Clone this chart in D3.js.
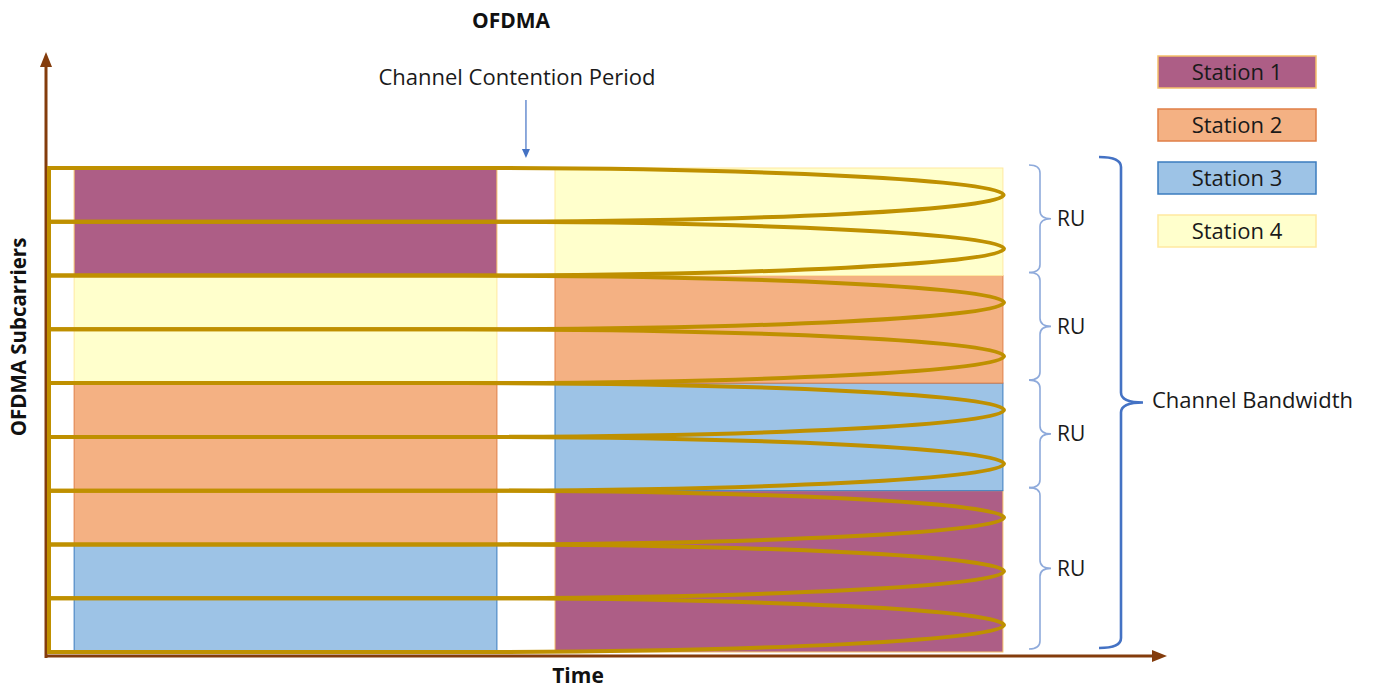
<!DOCTYPE html>
<html>
<head>
<meta charset="utf-8">
<script src="https://cdn.jsdelivr.net/npm/d3@7"></script>
<style>
  body { margin: 0; background: #fff; }
  svg { display: block; font-family: "Open Sans", sans-serif; }
</style>
</head>
<body>
<svg id="chart" width="1374" height="688"></svg>
<script>
// Stations (legend order)
const stations = ["Station 1", "Station 2", "Station 3", "Station 4"];

// Subcarrier rows, counted from the bottom
const subcarriers = [0, 1, 2, 3, 4, 5, 6, 7, 8];

// Time spans of the two transmissions (contention period sits in between)
const bursts = [[0.45, 8.02], [9.06, 17.08]];

// Who gets which rows: [station, from row, to row]
const burst1 = [["Station 3", 0, 2], ["Station 2", 2, 5], ["Station 4", 5, 7], ["Station 1", 7, 9]];
const burst2 = [["Station 1", 0, 3], ["Station 3", 3, 5], ["Station 2", 5, 7], ["Station 4", 7, 9]];

// Resource units on the right side
const ruGroups = [[7, 9], [5, 7], [3, 5], [0, 3]];
const contentionTime = 8.54;
const loopTip = 17.1;

const svg = d3.select("#chart");

const x = d3.scaleLinear().domain([0, 20]).range([49, 1166]);
const y = d3.scaleLinear().domain([0, 9]).range([652, 168]);

const fill = d3.scaleOrdinal(stations, ["#ad5e86", "#f4b183", "#9dc3e6", "#ffffcc"]);
const edge = d3.scaleOrdinal(stations, ["#f5c06a", "#e07f47", "#3b7cbf", "#ffe9a0"]);

const brown = "#843c0c";
const gold = "#bf9000";

// --- allocation blocks
[burst1, burst2].forEach((alloc, b) => {
  svg.append("g").selectAll("rect")
    .data(alloc)
    .join("rect")
    .attr("x", x(bursts[b][0]))
    .attr("width", x(bursts[b][1]) - x(bursts[b][0]))
    .attr("y", d => y(d[2]))
    .attr("height", d => y(d[1]) - y(d[2]))
    .attr("fill", d => fill(d[0]))
    .attr("stroke", d => edge(d[0]))
    .attr("stroke-width", 1);
});

// --- axes (arrows)
const axisG = svg.append("g");
axisG.append("line")
  .attr("x1", x(0) - 3).attr("x2", x(0) - 3)
  .attr("y1", y(0) + 6).attr("y2", 66)
  .attr("stroke", brown).attr("stroke-width", 3);
axisG.append("path")
  .attr("d", `M${x(0) - 3},52 L${x(0) - 9},67 L${x(0) + 3},67 Z`)
  .attr("fill", brown);
axisG.append("line")
  .attr("x1", x(0) - 4).attr("x2", x(20) - 12)
  .attr("y1", y(0) + 4).attr("y2", y(0) + 4)
  .attr("stroke", brown).attr("stroke-width", 3);
axisG.append("path")
  .attr("d", `M${x(20) + 1},${y(0) + 4} L${x(20) - 14},${y(0) - 2} L${x(20) - 14},${y(0) + 10} Z`)
  .attr("fill", brown);

// --- subcarrier loops
const tip = x(loopTip);
const rx = 540;
svg.append("g").selectAll("path")
  .data(subcarriers)
  .join("path")
  .attr("d", i => {
    const yt = y(i + 1), yb = y(i), ry = (yb - yt) / 2, cx = tip - rx;
    return `M${x(0)},${yt} H${cx} A${rx},${ry} 0 0 1 ${cx},${yb} H${x(0)} Z`;
  })
  .attr("fill", "none")
  .attr("stroke", gold)
  .attr("stroke-width", 4);

// --- braces
function brace(x0, y0, y1, w, r) {
  const xs = x0 + w / 2, xt = x0 + w, ym = (y0 + y1) / 2;
  return `M${x0},${y0} Q${xs},${y0} ${xs},${y0 + r} L${xs},${ym - r} Q${xs},${ym} ${xt},${ym}` +
         ` Q${xs},${ym} ${xs},${ym + r} L${xs},${y1 - r} Q${xs},${y1} ${x0},${y1}`;
}

const ruG = svg.append("g");
ruG.selectAll("path")
  .data(ruGroups)
  .join("path")
  .attr("d", d => brace(1029, y(d[1]) - 3, y(d[0]) - 3, 22, 8))
  .attr("fill", "none")
  .attr("stroke", "#8eaadb")
  .attr("stroke-width", 1.6);
ruG.selectAll("text")
  .data(ruGroups)
  .join("text")
  .attr("x", 1057)
  .attr("y", d => (y(d[1]) + y(d[0])) / 2 - 3)
  .attr("dy", "0.35em")
  .attr("font-size", 21)
  .attr("fill", "#1a1a1a")
  .text("RU");

svg.append("path")
  .attr("d", brace(1099, y(9) - 11, y(0) - 4, 44, 10))
  .attr("fill", "none")
  .attr("stroke", "#4472c4")
  .attr("stroke-width", 2.6);
svg.append("text")
  .attr("x", 1152).attr("y", 400)
  .attr("dy", "0.35em")
  .attr("font-size", 22)
  .attr("fill", "#1a1a1a")
  .text("Channel Bandwidth");

// --- contention period label + arrow
const cx0 = x(contentionTime);
svg.append("text")
  .attr("x", 517).attr("y", 85)
  .attr("text-anchor", "middle")
  .attr("font-size", 22)
  .attr("fill", "#1a1a1a")
  .text("Channel Contention Period");
svg.append("line")
  .attr("x1", cx0).attr("x2", cx0)
  .attr("y1", 100).attr("y2", 150)
  .attr("stroke", "#4472c4").attr("stroke-width", 1.2);
svg.append("path")
  .attr("d", `M${cx0},158 L${cx0 - 4},149 L${cx0 + 4},149 Z`)
  .attr("fill", "#4472c4");

// --- titles
svg.append("text")
  .attr("x", 511).attr("y", 28)
  .attr("text-anchor", "middle")
  .attr("font-size", 21).attr("font-weight", "bold")
  .attr("fill", "#111")
  .text("OFDMA");
svg.append("text")
  .attr("x", 578).attr("y", 683)
  .attr("text-anchor", "middle")
  .attr("font-size", 21).attr("font-weight", "bold")
  .attr("fill", "#111")
  .text("Time");
svg.append("text")
  .attr("transform", "translate(26,337) rotate(-90)")
  .attr("text-anchor", "middle")
  .attr("font-size", 20.5).attr("font-weight", "bold")
  .attr("fill", "#111")
  .text("OFDMA Subcarriers");

// --- legend
const ly = d3.scalePoint(stations, [72, 231]);
const legend = svg.append("g").selectAll("g")
  .data(stations)
  .join("g")
  .attr("transform", d => `translate(1158,${ly(d)})`);
legend.append("rect")
  .attr("x", 0).attr("y", -16)
  .attr("width", 158).attr("height", 32)
  .attr("fill", d => fill(d))
  .attr("stroke", d => edge(d))
  .attr("stroke-width", 1.5);
legend.append("text")
  .attr("x", 79).attr("y", 0)
  .attr("dy", "0.35em")
  .attr("text-anchor", "middle")
  .attr("font-size", 22)
  .attr("fill", "#1a1a1a")
  .text(d => d);
</script>
</body>
</html>
